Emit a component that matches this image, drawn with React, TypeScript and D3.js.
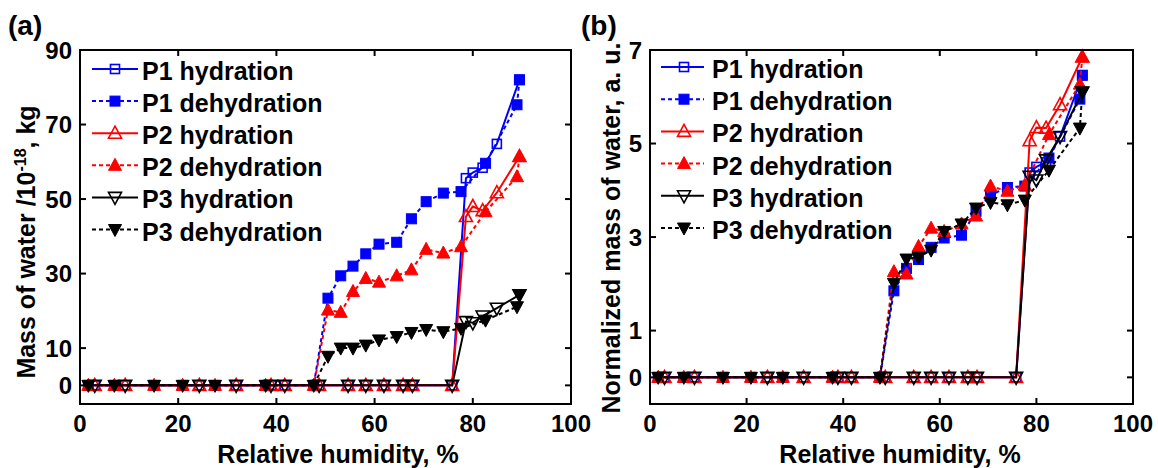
import React from 'react';
import * as d3 from 'd3';

// Relative humidity (%) of measurement points
const hydRH = [3.0, 9.2, 24.3, 31.8, 38.9, 41.7, 48.7, 54.6, 58.2, 61.9, 65.8, 67.7, 75.8, 78.6, 80.0, 82.0, 84.9, 89.5];
const dehRH = [89.5, 89.0, 82.6, 77.6, 74.0, 70.5, 67.5, 64.5, 60.9, 58.2, 55.6, 53.1, 50.5, 47.6, 37.8, 27.5, 20.9, 15.1, 7.0, 1.7];

// Panel (a): mass of water, 1e-18 kg
const p1HydA = [0, 0, 0, 0, 0, 0, 0, 0, 0, 0, 0, 0, 0, 55.6, 57.1, 58.4, 64.8, 82.0];
const p2HydA = [0, 0, 0, 0, 0, 0, 0, 0, 0, 0, 0, 0, 0, 45.3, 48.0, 46.9, 51.7, 61.4];
const p3HydA = [0, 0, 0, 0, 0, 0, 0, 0, 0, 0, 0, 0, 0, 17.1, 16.8, 18.6, 20.7, 24.3];
const p1DehA = [82.0, 75.3, 59.6, 52.0, 51.6, 49.3, 44.7, 38.4, 37.9, 35.3, 32.0, 29.4, 23.4, 0, 0, 0, 0, 0, 0, 0];
const p2DehA = [61.4, 56.0, 46.6, 37.2, 35.5, 36.5, 31.0, 29.4, 27.7, 28.7, 25.2, 19.6, 20.2, 0, 0, 0, 0, 0, 0, 0];
const p3DehA = [24.3, 21.1, 17.5, 15.3, 14.4, 15.0, 14.2, 13.1, 12.2, 10.8, 10.0, 10.0, 7.8, 0, 0, 0, 0, 0, 0, 0];

// Panel (b): normalized mass of water, a.u.
const p1HydB = [0, 0, 0, 0, 0, 0, 0, 0, 0, 0, 0, 0, 0, 4.38, 4.50, 4.60, 5.15, 6.46];
const p2HydB = [0, 0, 0, 0, 0, 0, 0, 0, 0, 0, 0, 0, 0, 5.06, 5.34, 5.33, 5.83, 6.85];
const p3HydB = [0, 0, 0, 0, 0, 0, 0, 0, 0, 0, 0, 0, 0, 4.30, 4.22, 4.65, 5.15, 6.10];
const p1DehB = [6.46, 5.95, 4.69, 4.09, 4.06, 3.90, 3.55, 3.04, 2.98, 2.78, 2.52, 2.33, 1.85, 0, 0, 0, 0, 0, 0, 0];
const p2DehB = [6.85, 6.27, 5.19, 4.11, 3.98, 4.09, 3.45, 3.28, 3.12, 3.19, 2.80, 2.21, 2.26, 0, 0, 0, 0, 0, 0, 0];
const p3DehB = [6.10, 5.33, 4.43, 3.79, 3.69, 3.74, 3.62, 3.28, 3.12, 2.72, 2.57, 2.53, 2.01, 0, 0, 0, 0, 0, 0, 0];

const seriesNames = ['P1 hydration', 'P1 dehydration', 'P2 hydration', 'P2 dehydration', 'P3 hydration', 'P3 dehydration'];
const xTicks = [0, 20, 40, 60, 80, 100];
const yTicksA = [0, 10, 30, 50, 70, 90];
const yTicksB = [0, 1, 3, 5, 7];

const FONT = '"Liberation Sans", Arial, Helvetica, sans-serif';

type MarkerType = 'square' | 'up' | 'down';
interface Series {
  name: string;
  x: number[];
  y: number[];
  color: string;
  dashed: boolean;
  marker: MarkerType;
  filled: boolean;
}

const styles: { color: string; dashed: boolean; marker: MarkerType; filled: boolean }[] = [
  { color: '#0000ff', dashed: false, marker: 'square', filled: false },
  { color: '#0000ff', dashed: true, marker: 'square', filled: true },
  { color: '#ff0000', dashed: false, marker: 'up', filled: false },
  { color: '#ff0000', dashed: true, marker: 'up', filled: true },
  { color: '#000000', dashed: false, marker: 'down', filled: false },
  { color: '#000000', dashed: true, marker: 'down', filled: true },
];

function buildSeries(vals: number[][]): Series[] {
  return vals.map((y, i) => ({
    name: seriesNames[i],
    x: i % 2 === 0 ? hydRH : dehRH,
    y,
    ...styles[i],
  }));
}

function Marker({ type, filled, color, cx, cy }: { type: MarkerType; filled: boolean; color: string; cx: number; cy: number }) {
  const fill = filled ? color : 'none';
  const sw = filled ? 1 : 1.6;
  if (type === 'square') {
    const s = filled ? 10 : 9;
    return <rect x={cx - s / 2} y={cy - s / 2} width={s} height={s} fill={fill} stroke={color} strokeWidth={sw} />;
  }
  const d = type === 'up'
    ? `M${cx},${cy - 7}L${cx + 6.5},${cy + 5}L${cx - 6.5},${cy + 5}Z`
    : `M${cx},${cy + 7}L${cx + 6.5},${cy - 5}L${cx - 6.5},${cy - 5}Z`;
  return <path d={d} fill={fill} stroke={color} strokeWidth={sw} strokeLinejoin="miter" />;
}

interface PanelProps {
  left: number; right: number; top: number; bottom: number;
  yDomain: [number, number];
  yTicks: number[];
  series: Series[];
  label: string;
  labelX: number;
  yTitle: React.ReactNode;
  yTitleX: number; yTitleY: number;
  xTitleX: number;
  legend: { x0: number; x1: number; mx: number; tx: number; y0: number; dy: number };
}

function Panel(p: PanelProps) {
  const xs = d3.scaleLinear().domain([0, 100]).range([p.left, p.right]);
  const ys = d3.scaleLinear().domain(p.yDomain).range([p.bottom, p.top]);
  const line = d3.line<[number, number]>().x(d => xs(d[0])).y(d => ys(d[1]));
  const tl = 6;
  return (
    <g>
      <text x={p.labelX} y={35} fontFamily={FONT} fontWeight="bold" fontSize={28}>{p.label}</text>
      {p.series.map((s, i) => {
        const pts = s.x.map((x, j) => [x, s.y[j]] as [number, number]);
        return (
          <g key={i}>
            <path d={line(pts) || ''} fill="none" stroke={s.color} strokeWidth={2}
              strokeDasharray={s.dashed ? '4 3' : undefined} />
            {pts.map((d, j) => (
              <Marker key={j} type={s.marker} filled={s.filled} color={s.color} cx={xs(d[0])} cy={ys(d[1])} />
            ))}
          </g>
        );
      })}
      <rect x={p.left} y={p.top} width={p.right - p.left} height={p.bottom - p.top} fill="none" stroke="#000" strokeWidth={2} />
      {xTicks.map(t => (
        <g key={'x' + t}>
          <line x1={xs(t)} x2={xs(t)} y1={p.bottom} y2={p.bottom - tl} stroke="#000" strokeWidth={2} />
          <line x1={xs(t)} x2={xs(t)} y1={p.top} y2={p.top + tl} stroke="#000" strokeWidth={2} />
          <text x={xs(t)} y={432} textAnchor="middle" fontFamily={FONT} fontWeight="bold" fontSize={24}>{t}</text>
        </g>
      ))}
      {p.yTicks.map(t => (
        <g key={'y' + t}>
          <line x1={p.left} x2={p.left + tl} y1={ys(t)} y2={ys(t)} stroke="#000" strokeWidth={2} />
          <line x1={p.right} x2={p.right - tl} y1={ys(t)} y2={ys(t)} stroke="#000" strokeWidth={2} />
          <text x={p.left - 8} y={ys(t) + 8.5} textAnchor="end" fontFamily={FONT} fontWeight="bold" fontSize={24}>{t}</text>
        </g>
      ))}
      <text x={p.xTitleX} y={463} textAnchor="middle" fontFamily={FONT} fontWeight="bold" fontSize={25}>Relative humidity, %</text>
      <text transform={`translate(${p.yTitleX},${p.yTitleY}) rotate(-90)`} textAnchor="middle" dy={9}
        fontFamily={FONT} fontWeight="bold" fontSize={25}>{p.yTitle}</text>
      {p.series.map((s, i) => {
        const y = p.legend.y0 + i * p.legend.dy;
        return (
          <g key={'l' + i}>
            <line x1={p.legend.x0} x2={p.legend.x1} y1={y} y2={y} stroke={s.color} strokeWidth={2}
              strokeDasharray={s.dashed ? '4 3' : undefined} />
            <Marker type={s.marker} filled={s.filled} color={s.color} cx={p.legend.mx} cy={y} />
            <text x={p.legend.tx} y={y + 11} fontFamily={FONT} fontWeight="bold" fontSize={25}>{s.name}</text>
          </g>
        );
      })}
    </g>
  );
}

export default function App() {
  const seriesA = buildSeries([p1HydA, p1DehA, p2HydA, p2DehA, p3HydA, p3DehA]);
  const seriesB = buildSeries([p1HydB, p1DehB, p2HydB, p2DehB, p3HydB, p3DehB]);
  return (
    <svg width={1158} height={468} style={{ position: 'absolute', left: 0, top: 0, background: '#fff' }}>
      <rect width={1158} height={468} fill="#fff" />
      <Panel left={80} right={571} top={50} bottom={404} yDomain={[-5, 90]} yTicks={yTicksA}
        series={seriesA} label="(a)" labelX={8}
        yTitle={<>Mass of water /10<tspan dy={-9} fontSize={16}>-18</tspan><tspan dy={9}>, kg</tspan></>}
        yTitleX={26} yTitleY={242} xTitleX={338}
        legend={{ x0: 92, x1: 138, mx: 115, tx: 142, y0: 69, dy: 32.1 }} />
      <Panel left={650} right={1133} top={50} bottom={404} yDomain={[-0.57, 7]} yTicks={yTicksB}
        series={seriesB} label="(b)" labelX={581}
        yTitle="Normalized mass of water, a. u."
        yTitleX={611} yTitleY={228} xTitleX={900}
        legend={{ x0: 661, x1: 704, mx: 684, tx: 712, y0: 67, dy: 32.2 }} />
    </svg>
  );
}
